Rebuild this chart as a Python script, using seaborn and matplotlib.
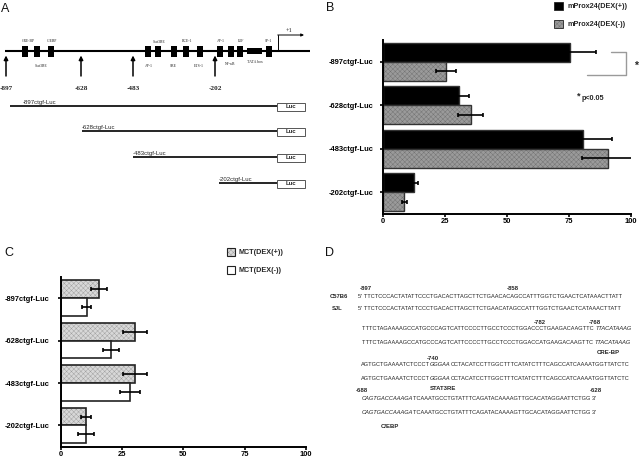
import numpy as np
import pandas as pd
import matplotlib
matplotlib.use("Agg")
import matplotlib.pyplot as plt
import matplotlib.colors as mcolors
from matplotlib.patches import Rectangle
import seaborn as sns

# ---------------- data ----------------
constructs = ['-897ctgf-Luc', '-628ctgf-Luc', '-483ctgf-Luc', '-202ctgf-Luc']
x_ticks = [0, 25, 50, 75, 100]

b_labels = ['mProx24(DEX(+))', 'mProx24(DEX(-))']
b_dex_pos = [75.4, 30.7, 80.8, 12.7]
b_dex_pos_err = [10.5, 4.2, 11.4, 1.6]
b_dex_neg = [25.4, 35.4, 90.6, 8.6]
b_dex_neg_err = [4.0, 5.0, 10.2, 1.0]

c_labels = ['MCT(DEX(+))', 'MCT(DEX(-))']
c_dex_pos = [15.6, 30.3, 30.3, 10.3]
c_dex_pos_err = [3.2, 5.0, 5.0, 2.2]
c_dex_neg = [10.6, 20.5, 28.3, 10.3]
c_dex_neg_err = [1.9, 3.2, 4.2, 3.2]

promoter_sites = ['-897', '-628', '-483', '-202']
elements_above = ['CRE-BP', 'C/EBP', 'Stat3RE', 'BCE-1', 'AP-1', 'E2F', 'SP-1']
elements_below = ['Stat3RE', 'AP-1', 'SRE', 'ETS-1', 'NF-κB', 'TATA box']

d_strains = ['C57B6', 'SJL']
d_rows_c57 = [
    [("5' TTCTCCCACTATATTCCCTGACACTTAGCTTCTGAACACAGCCATTTGGTCTGAACTCATAAACTTATT", 'normal')],
    [("TTTCTAGAAAAGCCATGCCCAGTCATTCCCCTTGCCTCCCTGGACCCTGAAGACAAGTTC ", 'normal'), ("TTACATAAAG", 'italic')],
    [("AGTGCTGAAAATCTCCCT", 'normal'), ("GGGAA", 'italic'), ("CCTACATCCTTGGCTTTCATATCTTTCAGCCATCAAAATGGTTATCTC", 'normal')],
    [("CAGTGACCAAAGA", 'italic'), ("TCAAATGCCTGTATTTCAGATACAAAAGTTGCACATAGGAATTCTGG 3'", 'normal')],
]
d_rows_sjl = [
    [("5' TTCTCCCACTATATTCCCTGACACTTAGCTTCTGAACATAGCCATTTGGTCTGAACTCATAAACTTATT", 'normal')],
    [("TTTCTAGAAAAGCCATGCCCAGTCATTCCCCTTGCCTCCCTGGACCATGAAGACAAGTTC ", 'normal'), ("TTACATAAAG", 'italic')],
    [("AGTGCTGAAAATCTCCCT", 'normal'), ("GGGAA", 'italic'), ("CCTACATCCTTGGCTTTCATATCTTTCAGCCATCAAAATGGTTATCTC", 'normal')],
    [("CAGTGACCAAAGA", 'italic'), ("TCAAATGCCTGTATTTCAGATACAAAAGTTGCACATAGGAATTCTGG 3'", 'normal')],
]
d_annotations = [('-897', 366, 288), ('-858', 513, 288), ('-782', 540, 322), ('-768', 595, 322),
                 ('CRE-BP', 608, 353), ('-740', 433, 358), ('STAT3RE', 443, 388),
                 ('-688', 362, 391), ('-628', 596, 391), ('C/EBP', 390, 426)]

# ---------------- style ----------------
sns.set_style('ticks')
plt.rcParams['font.family'] = ['Liberation Sans', 'DejaVu Sans']
plt.rcParams['hatch.linewidth'] = 0.3

W, H = 640, 462
fig = plt.figure(figsize=(6.4, 4.62), dpi=100)


def px_axes(l, t, r, b):
    return fig.add_axes([l / W, 1 - b / H, (r - l) / W, (b - t) / H])


def set_hatch_color(p, c):
    if hasattr(p, 'set_hatchcolor'):
        p.set_hatchcolor(c)
    else:
        p._hatch_color = mcolors.to_rgba(c)


def draw_bars(ax, labels, vpos, epos, vneg, eneg, colors, hatched, hatch_col, width, edge, lw):
    n = len(constructs)
    df = pd.DataFrame({'construct': constructs * 2,
                       'value': vpos + vneg,
                       'group': [labels[0]] * n + [labels[1]] * n})
    sns.barplot(data=df, y='construct', x='value', hue='group', hue_order=labels,
                order=constructs, palette=colors, orient='h', width=width,
                errorbar=None, edgecolor=edge, linewidth=lw, legend=False,
                saturation=1, ax=ax)
    for p in ax.patches:
        yc = p.get_y() + p.get_height() / 2
        idx = int(round(yc))
        h = 0 if yc < idx else 1
        if h == hatched:
            p.set_hatch('xxxxxxx')
            set_hatch_color(p, hatch_col)
    base = np.arange(n)
    for h, (v, e) in enumerate([(vpos, epos), (vneg, eneg)]):
        pos = base + (-1 if h == 0 else 1) * width / 4
        ax.errorbar(v, pos, xerr=e, fmt='none', ecolor='black', elinewidth=1.2,
                    capsize=1.7, capthick=1.2, zorder=5)
    ax.set_xlim(0, 100)
    ax.set_ylim(n - 0.5, -0.5)
    ax.set_xticks(x_ticks)
    ax.set_xticklabels([str(t) for t in x_ticks])
    ax.set_xlabel('')
    ax.set_ylabel('')
    sns.despine(ax=ax)
    for s in ['left', 'bottom']:
        ax.spines[s].set_linewidth(1.4)
        ax.spines[s].set_color('black')
    ax.tick_params(axis='x', length=2.3, width=1.2, labelsize=5.4, pad=0.8, colors='black')
    ax.tick_params(axis='y', length=2.3, width=1.2, labelsize=5.4, colors='black')
    for t in ax.get_xticklabels() + ax.get_yticklabels():
        t.set_fontweight('bold')


# Panel B
axB = px_axes(382.7, 40, 631, 214)
draw_bars(axB, b_labels, b_dex_pos, b_dex_pos_err, b_dex_neg, b_dex_neg_err,
          ['#000000', '#9a9a9a'], 1, '#707070', 0.88, '#333333', 1.0)
axB.tick_params(axis='y', pad=4.6)

# Panel C
axC = px_axes(60.7, 277, 306, 446.7)
draw_bars(axC, c_labels, c_dex_pos, c_dex_pos_err, c_dex_neg, c_dex_neg_err,
          ['#d8d8d8', '#ffffff'], 0, '#9c9c9c', 0.84, '#222222', 1.2)
axC.tick_params(axis='y', pad=6.0)

# Overlay for schematic, legends and sequence text (pixel coordinates)
ov = fig.add_axes([0, 0, 1, 1])
ov.set_xlim(0, W)
ov.set_ylim(H, 0)
ov.axis('off')

# panel letters
for letter, x, y in [('A', 1, 9), ('B', 326, 8), ('C', 4, 253), ('D', 325, 253)]:
    ov.text(x, y, letter, fontsize=9, ha='left', va='center', color='#111111')

# ---------- Panel A schematic ----------
serif = ['Liberation Serif', 'DejaVu Serif']
ov.plot([5, 310], [51, 51], color='black', lw=1.5, solid_capstyle='butt')
box_x = [24.5, 37, 50.5, 148, 158, 174, 186, 199.5, 220, 230.5, 240, 269]
for bx in box_x:
    ov.add_patch(Rectangle((bx - 3, 45.7), 6, 11.6, color='black', lw=0))
ov.add_patch(Rectangle((247, 48.3), 15, 5.7, color='black', lw=0))
above_x = [28, 52, 159, 187, 221, 241, 268]
above_y = [40.7, 40.7, 42, 41, 41, 41, 41]
for lab, x, y in zip(elements_above, above_x, above_y):
    ov.text(x, y, lab, fontsize=2.8, family=serif, ha='center', va='center')
below_x = [41, 149, 173, 199, 230, 255]
below_y = [65.7, 65.7, 65.7, 65.7, 64, 62]
for lab, x, y in zip(elements_below, below_x, below_y):
    ov.text(x, y, lab, fontsize=2.8, family=serif, ha='center', va='center')
# +1 start
ov.plot([278, 278], [51, 35], color='black', lw=0.7)
ov.annotate('', xy=(304, 35), xytext=(277.7, 35),
            arrowprops=dict(arrowstyle='-|>', lw=0.7, color='black', mutation_scale=4, shrinkA=0, shrinkB=0))
ov.text(289, 30, '+1', fontsize=4.5, family=serif, ha='center', va='center')
# deletion sites
site_x = [6, 81, 133, 215]
for lab, x in zip(promoter_sites, site_x):
    ov.annotate('', xy=(x, 55.5), xytext=(x, 76),
                arrowprops=dict(arrowstyle='-|>', lw=1.1, color='black', mutation_scale=6, shrinkA=0, shrinkB=0))
    ov.text(x, 88, lab, fontsize=5.2, family=serif, fontweight='bold', ha='center', va='center')
# constructs
row_y = [106, 131, 157, 183]
line_start = [10, 82, 133, 219]
for lab, y, xs in zip(constructs, row_y, line_start):
    ov.plot([xs, 277], [y, y], color='black', lw=1.2, solid_capstyle='butt')
    ov.add_patch(Rectangle((277, y - 3.5), 28, 8.5, facecolor='white', edgecolor='#555555', lw=0.7))
    ov.text(291, y + 0.8, 'Luc', fontsize=4.3, fontweight='bold', ha='center', va='center')
    ov.text(xs + 13 if xs < 20 else xs, y - 3.5, lab, fontsize=4.3, ha='left', va='center')

# ---------- Panel B extras ----------
ov.add_patch(Rectangle((554, 2), 8.5, 7.5, facecolor='#000000', edgecolor='#222222', lw=0.6))
pB = Rectangle((554, 20), 8.5, 7.5, facecolor='#9a9a9a', edgecolor='#222222', lw=0.6, hatch='xxxxxxx')
set_hatch_color(pB, '#707070')
ov.add_patch(pB)
ov.text(567, 6, b_labels[0], fontsize=5.2, fontweight='bold', ha='left', va='center')
ov.text(567, 24, b_labels[1], fontsize=5.2, fontweight='bold', ha='left', va='center')
ov.plot([611, 626, 626, 587], [52, 52, 75, 75], color='#9a9a9a', lw=1.0)
ov.text(636, 66, '*', fontsize=7.5, fontweight='bold', ha='center', va='center')
ov.text(578.5, 96, '*', fontsize=6.5, fontweight='bold', ha='center', va='center')
ov.text(582, 99, 'p<0.05', fontsize=5.2, fontweight='bold', ha='left', va='center')

# ---------- Panel C legend ----------
pC = Rectangle((227, 248), 8, 8, facecolor='#d8d8d8', edgecolor='#222222', lw=0.8, hatch='xxxxxxx')
set_hatch_color(pC, '#9c9c9c')
ov.add_patch(pC)
ov.add_patch(Rectangle((227, 266), 8, 8, facecolor='white', edgecolor='#222222', lw=0.8))
ov.text(238.5, 253, c_labels[0], fontsize=5.2, fontweight='bold', ha='left', va='center')
ov.text(238.5, 270, c_labels[1], fontsize=5.2, fontweight='bold', ha='left', va='center')

# ---------- Panel D sequence ----------
renderer = fig.canvas.get_renderer()
inv = ov.transData.inverted()


def seg_text(x, y, segments, size=4.1):
    for txt, style in segments:
        t = ov.text(x, y, txt, fontsize=size, fontstyle=style, ha='left', va='center', color='#222222')
        bb = t.get_window_extent(renderer)
        x = inv.transform((bb.x1, bb.y0))[0]


seq_y = [(296, 309), (329, 343), (364, 378), (399, 413)]
seq_x = [358, 362, 361, 362]
for (y1, y2), x0, r1, r2 in zip(seq_y, seq_x, d_rows_c57, d_rows_sjl):
    seg_text(x0, y1, r1)
    seg_text(x0, y2, r2)
ov.text(330, 296, d_strains[0], fontsize=4.2, fontweight='bold', ha='left', va='center')
ov.text(332, 309, d_strains[1], fontsize=4.2, fontweight='bold', ha='left', va='center')
for lab, x, y in d_annotations:
    ov.text(x, y, lab, fontsize=4.3, fontweight='bold', ha='center', va='center')

fig.savefig('out.png', dpi=100)
